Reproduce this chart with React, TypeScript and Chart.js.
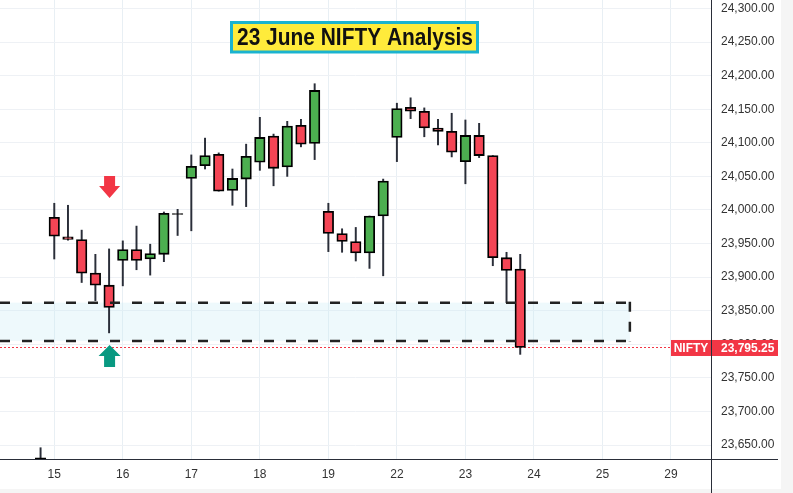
import React, { useEffect, useRef } from 'react';
import { Chart, registerables } from 'chart.js';

Chart.register(...registerables);

// ---- data ----
const dayLabels = ['15', '16', '17', '18', '19', '22', '23', '24', '25', '29'];
const dayTickSlots = [0, 5, 10, 15, 20, 25, 30, 35, 40, 45];
const candleSlots = [-1, 0, 1, 2, 3, 4, 5, 6, 7, 8, 9, 10, 11, 12, 13, 14, 15, 16, 17, 18, 19, 20, 21, 22, 23, 24, 25, 26, 27, 28, 29, 30, 31, 32, 33, 34];
const opens = [23631, 23989, 23960, 23956, 23906, 23888, 23925, 23941, 23927, 23934, 23994.5, 24047, 24066, 24083, 24029, 24046, 24071, 24110, 24064, 24126, 24099, 23998, 23965, 23953, 23936, 23991, 24108, 24153, 24147, 24122, 24117, 24072, 24111, 24081, 23929, 23912];
const highs = [23646, 24010, 24007, 23970, 23934, 23942, 23954, 23976, 23949, 23997, 24001, 24082, 24107, 24085, 24061, 24098, 24138, 24113, 24132, 24135, 24188, 24010, 23972, 23974, 23991, 24046, 24159, 24167, 24152, 24135, 24144, 24134, 24129, 24081, 23937, 23934];
const lows = [23610, 23927, 23955, 23892, 23865, 23817, 23887, 23911, 23903, 23923, 23962, 23969, 24061, 24028, 24007, 24005, 24059, 24036, 24050, 24094, 24075, 23938, 23937, 23924, 23913, 23902, 24072, 24136, 24109, 24097, 24079, 24039, 24078, 23917, 23862, 23785];
const closes = [23620, 23961, 23956, 23906, 23888, 23855, 23941, 23925, 23935, 23995, 23993.5, 24065, 24081, 24028, 24047, 24080, 24108, 24062, 24125, 24098, 24178, 23965, 23953, 23936, 23991, 24043, 24151, 24147, 24122, 24117, 24086, 24111, 24081, 23929, 23910, 23795.25];
const yTicks = [23650, 23700, 23750, 23800, 23850, 23900, 23950, 24000, 24050, 24100, 24150, 24200, 24250, 24300];
const lastClose = 23795.25;
const zoneLow = 23805;
const zoneHigh = 23862;
const zoneEndSlot = 42;
const arrowSlot = 4;
const downArrowTip = 24018;
const upArrowTip = 23799;
const titleText = '23 June NIFTY Analysis';
const symbolText = 'NIFTY';

const UP = '#4caf50';
const DOWN = '#f44555';
const RED = '#f23645';
const TEAL = '#089981';

const fmt = new Intl.NumberFormat('en-US', { minimumFractionDigits: 2, maximumFractionDigits: 2 });

export default function App() {
  const ref = useRef<HTMLCanvasElement | null>(null);

  useEffect(() => {
    const canvas = ref.current;
    if (!canvas) return;
    Chart.defaults.font.family = "'Liberation Sans', Arial, sans-serif";

    const bodyColors = candleSlots.map((_, i) =>
      Math.abs(closes[i] - opens[i]) < 1.5 ? '#111' : closes[i] >= opens[i] ? UP : DOWN
    );

    const overlay = {
      id: 'overlay',
      beforeDatasetsDraw(chart: any) {
        const { ctx, chartArea, scales } = chart;
        const x = scales.x, y = scales.y;
        ctx.save();
        ctx.beginPath();
        ctx.rect(chartArea.left, chartArea.top, chartArea.right - chartArea.left, chartArea.bottom - chartArea.top);
        ctx.clip();
        const x1 = x.getPixelForValue(zoneEndSlot);
        const yt = y.getPixelForValue(zoneHigh);
        const yb = y.getPixelForValue(zoneLow);
        ctx.fillStyle = 'rgba(200,235,245,0.3)';
        ctx.fillRect(chartArea.left, yt, x1 - chartArea.left, yb - yt);
        // last price dotted line
        const yp = Math.round(y.getPixelForValue(lastClose)) + 0.5;
        ctx.strokeStyle = RED;
        ctx.lineWidth = 1;
        ctx.setLineDash([2, 2]);
        ctx.beginPath();
        ctx.moveTo(chartArea.left, yp);
        ctx.lineTo(chartArea.right, yp);
        ctx.stroke();
        ctx.setLineDash([]);
        ctx.restore();
      },
      afterDatasetsDraw(chart: any) {
        const { ctx, chartArea, scales } = chart;
        const x = scales.x, y = scales.y;
        ctx.save();
        // zone dashed border
        const x1 = x.getPixelForValue(zoneEndSlot);
        const yt = y.getPixelForValue(zoneHigh);
        const yb = y.getPixelForValue(zoneLow);
        ctx.strokeStyle = '#222';
        ctx.lineWidth = 2.5;
        ctx.setLineDash([10, 12]);
        ctx.beginPath();
        ctx.moveTo(chartArea.left, yt);
        ctx.lineTo(x1, yt);
        ctx.moveTo(chartArea.left, yb);
        ctx.lineTo(x1, yb);
        ctx.stroke();
        ctx.setLineDash([10, 10]);
        ctx.beginPath();
        ctx.moveTo(x1, yt - 1);
        ctx.lineTo(x1, yb + 1);
        ctx.stroke();
        ctx.setLineDash([]);
        // arrows
        const ax = x.getPixelForValue(arrowSlot) + 0.5;
        const dTip = y.getPixelForValue(downArrowTip);
        ctx.fillStyle = RED;
        ctx.beginPath();
        ctx.moveTo(ax - 5.5, dTip - 22);
        ctx.lineTo(ax + 5.5, dTip - 22);
        ctx.lineTo(ax + 5.5, dTip - 12);
        ctx.lineTo(ax + 10.5, dTip - 12);
        ctx.lineTo(ax, dTip);
        ctx.lineTo(ax - 10.5, dTip - 12);
        ctx.lineTo(ax - 5.5, dTip - 12);
        ctx.closePath();
        ctx.fill();
        const uTip = y.getPixelForValue(upArrowTip);
        ctx.fillStyle = TEAL;
        ctx.beginPath();
        ctx.moveTo(ax, uTip);
        ctx.lineTo(ax + 11, uTip + 11);
        ctx.lineTo(ax + 5.5, uTip + 11);
        ctx.lineTo(ax + 5.5, uTip + 22);
        ctx.lineTo(ax - 5.5, uTip + 22);
        ctx.lineTo(ax - 5.5, uTip + 11);
        ctx.lineTo(ax - 11, uTip + 11);
        ctx.closePath();
        ctx.fill();
        ctx.restore();
      },
      afterDraw(chart: any) {
        const { ctx, chartArea, scales, width, height } = chart;
        const y = scales.y;
        ctx.save();
        // right/bottom light strips
        ctx.fillStyle = '#f5f5f5';
        ctx.fillRect(781, 0, width - 781, height);
        ctx.fillRect(0, 489, width, height - 489);
        // axis lines
        ctx.strokeStyle = '#2a2e39';
        ctx.lineWidth = 1;
        ctx.beginPath();
        ctx.moveTo(0, chartArea.bottom + 0.5);
        ctx.lineTo(778, chartArea.bottom + 0.5);
        ctx.moveTo(chartArea.right + 0.5, 0);
        ctx.lineTo(chartArea.right + 0.5, height);
        ctx.stroke();
        // price labels
        const yp = y.getPixelForValue(lastClose);
        ctx.fillStyle = RED;
        ctx.fillRect(671, yp - 7.5, 40, 16);
        ctx.fillRect(chartArea.right + 1, yp - 7.5, 66, 16);
        ctx.fillStyle = '#fff';
        ctx.font = "bold 12px 'Liberation Sans', Arial, sans-serif";
        ctx.textBaseline = 'middle';
        ctx.textAlign = 'center';
        ctx.fillText(symbolText, 691, yp + 1);
        ctx.textAlign = 'left';
        ctx.fillText(fmt.format(lastClose), chartArea.right + 10, yp + 1);
        // title box
        ctx.fillStyle = '#ffeb3b';
        ctx.fillRect(231.5, 22.5, 246, 29.5);
        ctx.strokeStyle = '#1ab3cf';
        ctx.lineWidth = 3;
        ctx.strokeRect(231.5, 22.5, 246, 29.5);
        ctx.fillStyle = '#111';
        ctx.font = "bold 23px 'Liberation Sans', Arial, sans-serif";
        ctx.textAlign = 'center';
        ctx.textBaseline = 'alphabetic';
        ctx.fillText(titleText, 355, 45, 236);
        ctx.restore();
      },
    };

    const chart = new Chart(canvas, {
      type: 'bar',
      data: {
        datasets: [
          {
            label: 'wicks',
            data: candleSlots.map((s, i) => ({ x: s, y: [lows[i], highs[i]] })) as any,
            backgroundColor: '#2a2e39',
            borderWidth: 0,
            barThickness: 1.3,
            grouped: false,
            order: 2,
          } as any,
          {
            label: 'bodies',
            data: candleSlots.map((s, i) => ({ x: s, y: [opens[i], closes[i]] })) as any,
            backgroundColor: bodyColors,
            borderColor: '#000',
            borderWidth: 1.8,
            borderSkipped: false,
            barThickness: 10.5,
            grouped: false,
            order: 1,
          } as any,
        ],
      },
      options: {
        responsive: false,
        animation: false,
        layout: { padding: 0 },
        plugins: { legend: { display: false }, tooltip: { enabled: false }, title: { display: false } },
        scales: {
          x: {
            type: 'linear',
            min: -3.96,
            max: 47.92,
            offset: false,
            afterBuildTicks: (scale: any) => {
              scale.ticks = dayTickSlots.map((v) => ({ value: v }));
            },
            afterFit: (scale: any) => {
              scale.height = 34;
              scale.paddingLeft = 0;
              scale.paddingRight = 0;
              scale.paddingTop = 0;
              scale.paddingBottom = 0;
            },
            ticks: {
              autoSkip: false,
              maxRotation: 0,
              padding: 8,
              color: '#333',
              font: { size: 12 },
              callback: (_v: any, idx: number) => dayLabels[idx],
            },
            grid: { color: '#e8eff4', drawTicks: false, offset: false },
            border: { display: false },
          },
          y: {
            type: 'linear',
            position: 'right',
            min: 23629.2,
            max: 24312.66,
            afterBuildTicks: (scale: any) => {
              scale.ticks = yTicks.map((v) => ({ value: v }));
            },
            afterFit: (scale: any) => {
              scale.width = 82;
              scale.paddingTop = 0;
              scale.paddingBottom = 0;
              scale.paddingLeft = 0;
              scale.paddingRight = 0;
            },
            ticks: {
              padding: 10,
              color: '#333',
              font: { size: 12 },
              callback: (v: any) => fmt.format(Number(v)),
            },
            grid: { color: '#eef1f5', drawTicks: false },
            border: { display: false },
          },
        },
      } as any,
      plugins: [overlay],
    });
    return () => chart.destroy();
  }, []);

  return (
    <div style={{ position: 'fixed', left: 0, top: 0, width: 793, height: 493, background: '#fff' }}>
      <canvas ref={ref} width={793} height={493} style={{ display: 'block' }} />
    </div>
  );
}
